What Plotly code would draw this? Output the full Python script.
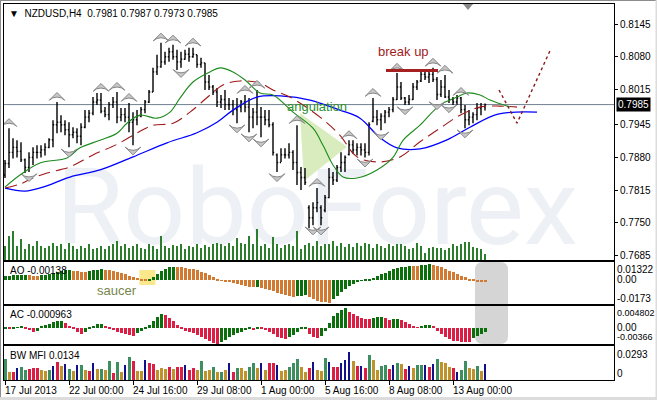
import base64
import plotly.graph_objects as go

FONT = "Liberation Sans"

# ---------------- data ----------------
bars = list(range(121))
high = [.7875,.7938,.7918,.7914,.7910,.7878,.7890,.7900,.7904,.7904,.7908,.7918,.7954,.7990,.7964,.7954,.7950,.7940,.7938,.7948,
        .7974,.7974,.8000,.8008,.8008,.7980,.7990,.8000,.8010,.7978,.7978,.7988,.7970,.7974,.7980,.7994,.8014,.8058,.8084,.8108,
        .8090,.8098,.8104,.8094,.8090,.8094,.8098,.8098,.8084,.8078,.8068,.8044,.8024,.8018,.8004,.8014,.7998,.7994,.7998,.7994,
        .8004,.7998,.7978,.8014,.7980,.7974,.7974,.7950,.7888,.7898,.7898,.7908,.7894,.7944,.7861,.7859,.7785,.7791,.7819,.7785,
        .7805,.7859,.7851,.7865,.7890,.7884,.7914,.7914,.7908,.7908,.7908,.7950,.7998,.7974,.7968,.7974,.7980,.8000,.8048,.8030,
        .8000,.8004,.8028,.8034,.8050,.8054,.8054,.8058,.8040,.8034,.8044,.8014,.8000,.8004,.8000,.7984,.7974,.7970,.7988,.7988,
        .7987]
low = [.7839,.7859,.7878,.7880,.7871,.7849,.7851,.7865,.7878,.7880,.7884,.7898,.7900,.7928,.7930,.7924,.7900,.7918,.7908,.7904,
       .7938,.7950,.7964,.7984,.7968,.7960,.7954,.7978,.7948,.7952,.7950,.7930,.7904,.7944,.7960,.7968,.7988,.8010,.8044,.8058,
       .8064,.8070,.8074,.8054,.8058,.8074,.8070,.8078,.8058,.8058,.8014,.8014,.8004,.7980,.7978,.7974,.7974,.7964,.7948,.7970,
       .7970,.7930,.7938,.7944,.7920,.7944,.7940,.7884,.7851,.7871,.7878,.7878,.7855,.7825,.7815,.7825,.7739,.7745,.7771,.7745,
       .7771,.7799,.7825,.7831,.7851,.7851,.7884,.7888,.7884,.7884,.7880,.7884,.7950,.7944,.7934,.7948,.7960,.7970,.7994,.7994,
       .7984,.7984,.7994,.8014,.8030,.8034,.8028,.8030,.7994,.8000,.7998,.7988,.7984,.7984,.7968,.7938,.7944,.7948,.7954,.7964,
       .7973]
close = [.7868,.7890,.7900,.7892,.7875,.7860,.7880,.7890,.7890,.7895,.7900,.7915,.7945,.7950,.7945,.7935,.7925,.7930,.7922,.7940,
         .7960,.7968,.7990,.7994,.7972,.7965,.7985,.7990,.7960,.7965,.7960,.7950,.7955,.7962,.7975,.7990,.8010,.8050,.8060,.8070,
         .8080,.8090,.8080,.8070,.8075,.8085,.8080,.8085,.8065,.8068,.8030,.8020,.8010,.7990,.7995,.7985,.7985,.7975,.7980,.7990,
         .7980,.7960,.7970,.7960,.7960,.7955,.7945,.7890,.7870,.7885,.7885,.7890,.7870,.7850,.7840,.7830,.7760,.7780,.7790,.7760,
         .7800,.7840,.7835,.7860,.7870,.7880,.7905,.7895,.7900,.7895,.7890,.7945,.7960,.7955,.7962,.7970,.7975,.7995,.8020,.7998,
         .7990,.7995,.8020,.8030,.8045,.8040,.8045,.8035,.8005,.8020,.8000,.7995,.7990,.7998,.7975,.7955,.7960,.7965,.7978,.7981,
         .7985]
open_ = [.7845,.7868,.7890,.7900,.7892,.7875,.7860,.7880,.7890,.7890,.7895,.7900,.7915,.7945,.7950,.7945,.7935,.7925,.7930,.7922,
         .7940,.7960,.7968,.7990,.7994,.7972,.7965,.7985,.7990,.7960,.7965,.7960,.7950,.7955,.7962,.7975,.7990,.8010,.8050,.8060,
         .8070,.8080,.8090,.8080,.8070,.8075,.8085,.8080,.8084,.8065,.8068,.8030,.8020,.8010,.7990,.7995,.7985,.7985,.7975,.7980,
         .7990,.7980,.7960,.7970,.7960,.7960,.7955,.7945,.7885,.7870,.7885,.7885,.7890,.7870,.7850,.7840,.7780,.7760,.7780,.7780,
         .7775,.7800,.7840,.7835,.7860,.7870,.7886,.7905,.7895,.7900,.7895,.7890,.7952,.7960,.7955,.7962,.7970,.7975,.7995,.8020,
         .7998,.7990,.7995,.8020,.8032,.8045,.8040,.8045,.8035,.8005,.8020,.8000,.7995,.7990,.7998,.7975,.7955,.7960,.7965,.7978,
         .7981]
volume = [14,24,29,14,21,11,16,14,19,14,12,14,17,14,16,11,17,14,11,14,12,16,11,12,14,11,14,16,19,14,
          16,12,14,16,12,11,16,14,11,24,14,12,15,14,16,11,14,13,16,12,15,13,16,17,16,14,17,14,22,17,
          16,24,16,31,14,16,12,23,16,12,15,16,14,29,11,15,17,14,19,14,16,16,19,14,17,13,16,13,17,14,
          17,16,12,16,14,12,16,14,16,16,14,11,12,17,14,7,12,13,12,12,10,12,16,14,16,18,18,13,12,11,6]

# Alligator lines (bar index, price)
jaw_x = [0,5,9.5,16.25,23.75,32,40.5,48,53,57,63,69.5,76.25,83.75,88.75,93.75,98,103.75,110.5,116.25,123.25,133]
jaw_y = [.7819,.7813,.7821,.7841,.7855,.7881,.7909,.7929,.7950,.7974,.8000,.8002,.7994,.7974,.7958,.7919,.7899,.7897,.7915,.7940,.7966,.7970]
teeth_x = [0,3.75,7,10.5,16.25,22,28.25,33.75,37,42,46.25,51.25,54.5,58.75,63.75,67,71.25,78.75,83.75,88,93.75,98.75,103.75,108.75,113.75,118.75,123.75,128]
teeth_y = [.7819,.7827,.7839,.7849,.7861,.7885,.7907,.7932,.7944,.7948,.7970,.8004,.8024,.8032,.8028,.8014,.8000,.7960,.7924,.7881,.7871,.7881,.7911,.7938,.7964,.7980,.7982,.7980]
lips_x = [0,3.75,8.75,15.5,18.75,23.75,28,30.5,33.75,38,41.25,43.75,47,51.25,53.75,57,60,63.75,67,72,77,79.5,82,84.5,88,93,97,99.5,103.75,108.75,113,115.5,118.75,121.25,126.25]
lips_y = [.7821,.7845,.7869,.7879,.7899,.7914,.7928,.7948,.7964,.7958,.7970,.7998,.8030,.8050,.8058,.8050,.8034,.8008,.8004,.7970,.7938,.7904,.7865,.7841,.7839,.7855,.7880,.7914,.7944,.7984,.8000,.8008,.8004,.7994,.7980]

fractal_up = [1,13,24,28,31,39,42,47,60,63,73,78,86,92,98,107,110,114]
fractal_down = [6,16,32,44,58,61,64,68,77,79,90,94,100,108,111,115]

ao = [.0030,.0034,.0036,.0037,.0038,.0038,.0036,.0033,.0030,.0035,.0040,.0044,.0052,.0060,.0066,.0071,.0075,.0070,.0065,.0060,
      .0058,.0065,.0072,.0077,.0080,.0076,.0071,.0065,.0058,.0050,.0042,.0034,.0025,.0016,.0010,.0008,.0012,.0022,.0045,.0070,
      .0085,.0093,.0098,.0097,.0094,.0090,.0085,.0080,.0072,.0062,.0050,.0038,.0025,.0012,-.0004,-.0010,-.0016,-.0022,-.0028,-.0034,
      -.0040,-.0046,-.0052,-.0050,-.0058,-.0066,-.0074,-.0082,-.0090,-.0098,-.0106,-.0113,-.0120,-.0117,-.0113,-.0110,-.0125,-.0138,-.0148,-.0156,
      -.0162,-.0165,-.0140,-.0112,-.0087,-.0062,-.0042,-.0026,-.0013,-.0004,.0002,.0008,.0016,.0030,.0043,.0055,.0070,.0079,.0087,.0093,
      .0099,.0104,.0102,.0100,.0108,.0114,.0118,.0113,.0105,.0095,.0083,.0070,.0057,.0045,.0033,.0020,.0010,.0003,-.0007,-.0012,
      -.00138]
ac = [-.0002,-.0003,-.0001,.0001,.0002,-.0002,-.0006,-.0009,-.0007,.0002,.0006,.0009,.0012,.0014,.0015,.0011,.0004,-.0003,-.0010,-.0015,
      -.0010,-.0004,.0002,.0007,.0008,.0003,-.0002,-.0006,-.0010,-.0013,-.0014,-.0016,-.0019,-.0012,-.0008,-.0003,.0006,.0015,.0024,.0030,
      .0028,.0022,.0015,.0006,-.0003,-.0008,-.0010,-.0013,-.0016,-.0020,-.0025,-.0030,-.0034,-.0036,-.0032,-.0027,-.0022,-.0017,-.0013,-.0010,
      -.0006,-.0004,-.0005,-.0002,-.0004,-.0006,-.0010,-.0015,-.0020,-.0024,-.0026,-.0022,-.0016,-.0010,-.0004,-.0001,-.0015,-.0020,-.0023,-.0019,
      -.0008,.0010,.0025,.0033,.0040,.0044,.0035,.0030,.0025,.0021,.0019,.0018,.0021,.0023,.0024,.0021,.0017,.0019,.0020,.0016,
      .0012,.0008,.0002,.0001,.0003,.0005,.0006,.0004,-.0008,-.0015,-.0021,-.0026,-.0030,-.0031,-.0032,-.0033,-.0033,-.0023,-.0019,-.0014,
      -.000963]
mfi = [.0181,.0069,.0069,.0103,.0112,.0086,.0095,.0103,.0103,.0086,.0078,.0086,.0121,.0155,.0121,.0138,.0095,.0078,.0129,.0129,
       .0086,.0078,.0147,.0095,.0095,.0086,.0164,.0060,.0155,.0069,.0129,.0198,.0164,.0078,.0078,.0172,.0147,.0138,.0086,.0103,
       .0095,.0112,.0095,.0112,.0112,.0129,.0086,.0103,.0086,.0164,.0078,.0086,.0112,.0069,.0069,.0086,.0147,.0069,.0103,.0103,
       .0078,.0112,.0147,.0103,.0147,.0086,.0147,.0147,.0129,.0078,.0086,.0112,.0147,.0181,.0112,.0069,.0103,.0155,.0086,.0078,
       .0190,.0155,.0112,.0112,.0147,.0172,.0241,.0164,.0121,.0121,.0103,.0215,.0172,.0086,.0121,.0129,.0095,.0129,.0147,.0138,
       .0095,.0121,.0103,.0129,.0129,.0129,.0112,.0138,.0181,.0155,.0147,.0112,.0103,.0069,.0086,.0164,.0103,.0095,.0121,.0078,
       .0134]
mfi_state = ["green","fade","squat","fake","green","green","squat","squat","squat","fade","fade","green","fake","squat","fade","fake","green","fade","fake","green",
             "fade","squat","fake","fade","green","fade","green","squat","green","fade","fake","green","squat","fade","fade","fake","squat","squat","fade","fade",
             "fade","squat","fade","squat","squat","fake","squat","squat","fade","green","fade","fade","green","fade","green","fade","fake","squat","green","fade",
             "fade","green","green","fade","fake","fade","squat","squat","fake","fade","fade","green","green","green","fade","fade","squat","fake","fade","fade",
             "green","fake","squat","squat","fake","fake","fake","fade","squat","fake","squat","green","fade","fade","green","green","squat","fake","green","fade",
             "squat","fake","fade","green","green","fake","squat","fake","green","fade","fade","fade","squat","fake","green","green","fade","fade","green","fade",
             "fake"]

time_ticks = [0, 16, 32, 48, 64, 80, 96, 112]
time_labels = ["17 Jul 2013", "22 Jul 00:00", "24 Jul 16:00", "29 Jul 08:00",
               "1 Aug 00:00", "5 Aug 16:00", "8 Aug 08:00", "13 Aug 00:00"]
price_ticks = [0.8145, 0.8080, 0.8015, 0.7945, 0.7880, 0.7815, 0.7750, 0.7685]
last_price = 0.7985

# annotation drawings (bar index, price)
breakup_x = [95.25, 108.25]
breakup_y = 0.8053
proj_x = [123.5, 128, 136.25]
proj_y = [0.8014, 0.7948, 0.8092]
angul_x = [73.75, 74.75, 85.5]
angul_y = [0.7968, 0.7833, 0.7901]

# ---------------- helpers ----------------
def change_colors(vals, up, down):
    out, prev = [], up
    for k, v in enumerate(vals):
        if k > 0:
            if v > vals[k - 1]:
                prev = up
            elif v < vals[k - 1]:
                prev = down
        out.append(prev)
    return out

MFI_COL = {"green": "#3d8f5f", "squat": "#dc1e44", "fade": "#c0922c", "fake": "#10108a"}

fig = go.Figure()

# price bars
fig.add_trace(go.Ohlc(x=bars, open=open_, high=high, low=low, close=close,
                      increasing=dict(line=dict(color="black", width=1.4)),
                      decreasing=dict(line=dict(color="black", width=1.4)),
                      tickwidth=0.3, xaxis="x", yaxis="y", hoverinfo="skip"))
# alligator
fig.add_trace(go.Scatter(x=jaw_x, y=jaw_y, mode="lines", line=dict(color="#0000ff", width=1.3, shape="spline"),
                         xaxis="x", yaxis="y"))
fig.add_trace(go.Scatter(x=teeth_x, y=teeth_y, mode="lines",
                         line=dict(color="#a01818", width=1.1, shape="spline", dash="12px,6px"),
                         xaxis="x", yaxis="y"))
fig.add_trace(go.Scatter(x=lips_x, y=lips_y, mode="lines", line=dict(color="#1b8a1b", width=1.1, shape="spline"),
                         xaxis="x", yaxis="y"))
# fractals
fig.add_trace(go.Scatter(x=fractal_up, y=[high[i] + 0.0019 for i in fractal_up], mode="markers",
                         marker=dict(symbol="arrow-wide", angle=0, size=11, color="#c8c8c8",
                                     line=dict(color="#858585", width=1)),
                         xaxis="x", yaxis="y"))
fig.add_trace(go.Scatter(x=fractal_down, y=[low[i] - 0.0019 for i in fractal_down], mode="markers",
                         marker=dict(symbol="arrow-wide", angle=180, size=11, color="#c8c8c8",
                                     line=dict(color="#858585", width=1)),
                         xaxis="x", yaxis="y"))
# projection dotted line & break-up line
fig.add_trace(go.Scatter(x=proj_x, y=proj_y, mode="lines", line=dict(color="#8b1a1a", width=1.4, dash="dot"),
                         xaxis="x", yaxis="y"))
fig.add_trace(go.Scatter(x=breakup_x, y=[breakup_y, breakup_y], mode="lines", line=dict(color="#a52020", width=3),
                         xaxis="x", yaxis="y"))
# volumes
fig.add_trace(go.Bar(x=bars, y=volume, width=0.3, marker=dict(color="#2c7d2c", line=dict(width=0)),
                     xaxis="x", yaxis="y5"))
# AO
fig.add_trace(go.Bar(x=bars, y=ao, width=0.75,
                     marker=dict(color=change_colors(ao, "#0b700b", "#d27a32"), line=dict(width=0)),
                     xaxis="x2", yaxis="y2"))
# AC
fig.add_trace(go.Bar(x=bars, y=ac, width=0.75,
                     marker=dict(color=change_colors(ac, "#0b700b", "#dc1e44"), line=dict(width=0)),
                     xaxis="x3", yaxis="y3"))
# BW MFI
fig.add_trace(go.Bar(x=bars, y=mfi, width=[0.3 if s == "fake" else 0.75 for s in mfi_state],
                     marker=dict(color=[MFI_COL[s] for s in mfi_state], line=dict(width=0)),
                     xaxis="x4", yaxis="y4"))

# ---------------- layout ----------------
W, H = 657, 400
ML, MR, MT, MB = 4, 43, 4, 20
PW, PH = W - ML - MR, H - MT - MB

def py(pix):  # pixel row -> paper y
    return (H - MB - pix) / PH

def px(pix):  # pixel col -> paper x
    return (pix - ML) / PW

XR = [-0.25, 152.25]
axis_common = dict(showline=True, mirror=True, linecolor="black", linewidth=1, showgrid=False, zeroline=False)
fig.update_layout(
    width=W, height=H, margin=dict(l=ML, r=MR, t=MT, b=MB),
    paper_bgcolor="white", plot_bgcolor="rgba(0,0,0,0)", showlegend=False,
    font=dict(family=FONT, size=10, color="black"),
    bargap=0,
    xaxis=dict(domain=[0, 1], anchor="y", range=XR, showticklabels=False, ticks="",
               rangeslider=dict(visible=False), **axis_common),
    xaxis2=dict(domain=[0, 1], anchor="y2", matches="x", showticklabels=False, ticks="", **axis_common),
    xaxis3=dict(domain=[0, 1], anchor="y3", matches="x", showticklabels=False, ticks="", **axis_common),
    xaxis4=dict(domain=[0, 1], anchor="y4", matches="x", showticklabels=False, ticks="outside", ticklen=4,
                tickcolor="black", tickvals=time_ticks, **axis_common),
    yaxis=dict(domain=[py(260), py(4)], range=[0.7676, 0.8185], side="right", tickvals=price_ticks,
               ticktext=[f"{v:.4f}" for v in price_ticks], ticks="outside", ticklen=3, tickcolor="black",
               tickfont=dict(size=10), **axis_common),
    yaxis2=dict(domain=[py(304), py(262)], range=[-0.0173, 0.01322], side="right", showticklabels=False,
                ticks="", **axis_common),
    yaxis3=dict(domain=[py(344), py(306)], range=[-0.00366, 0.004802], side="right", showticklabels=False,
                ticks="", **axis_common),
    yaxis4=dict(domain=[py(380), py(346)], range=[0, 0.0293], side="right", showticklabels=False,
                ticks="", **axis_common),
    yaxis5=dict(overlaying="y", range=[0, max(volume) * 8.26], visible=False, fixedrange=True),
)

# watermark as background image
svg = ('<svg xmlns="http://www.w3.org/2000/svg" width="610" height="256" viewBox="0 0 610 256">'
       '<text x="52" y="240" font-family="Roboto, Liberation Sans, sans-serif" font-size="106" '
       'fill="#edf0f4" textLength="522" lengthAdjust="spacingAndGlyphs">RoboForex</text></svg>')
fig.add_layout_image(dict(source="data:image/svg+xml;base64," + base64.b64encode(svg.encode()).decode(),
                          xref="paper", yref="paper", x=0, y=py(4), sizex=1, sizey=py(4) - py(260),
                          xanchor="left", yanchor="top", sizing="stretch", layer="below"))

shapes = []
# angulation triangle
shapes.append(dict(type="path", xref="x", yref="y", layer="below", line=dict(width=0), fillcolor="#d9ecbd",
                   path=f"M {angul_x[0]},{angul_y[0]} L {angul_x[1]},{angul_y[1]} L {angul_x[2]},{angul_y[2]} Z"))
# current price line
shapes.append(dict(type="line", xref="paper", yref="y", x0=0, x1=1, y0=last_price, y1=last_price,
                   line=dict(color="#71818f", width=1), layer="below"))
# saucer highlight
shapes.append(dict(type="rect", xref="x2", yref="y2", x0=33.6, x1=37.6, y0=-0.0035, y1=0.0074,
                   fillcolor="#fbe88a", line=dict(width=0), layer="below"))
# grey rounded box over AO/AC
x0, x1, y0, y1 = px(475), px(508), py(344), py(262)
rx, ry = 8 / PW, 8 / PH
shapes.append(dict(type="path", xref="paper", yref="paper", layer="below", fillcolor="#d5d5d5", line=dict(width=0),
                   path=(f"M {x0+rx},{y1} L {x1-rx},{y1} Q {x1},{y1} {x1},{y1-ry} L {x1},{y0+ry} "
                         f"Q {x1},{y0} {x1-rx},{y0} L {x0+rx},{y0} Q {x0},{y0} {x0},{y0+ry} "
                         f"L {x0},{y1-ry} Q {x0},{y1} {x0+rx},{y1} Z")))
# chart shift marker
shapes.append(dict(type="path", xref="paper", yref="paper", fillcolor="#8a8a8a", line=dict(width=0),
                   path=f"M {px(463)},{py(4)} L {px(473)},{py(4)} L {px(468)},{py(10)} Z"))
# window frame
shapes.append(dict(type="line", xref="paper", yref="paper", x0=px(0.5), x1=px(0.5), y0=py(400), y1=py(0),
                   line=dict(color="#8c8c8c", width=1)))
shapes.append(dict(type="line", xref="paper", yref="paper", x0=px(0), x1=px(657), y0=py(0.5), y1=py(0.5),
                   line=dict(color="#8c8c8c", width=1)))
shapes.append(dict(type="rect", xref="paper", yref="paper", x0=px(655.5), x1=px(657), y0=py(400), y1=py(0),
                   fillcolor="#dcdcdc", line=dict(width=0)))
shapes.append(dict(type="rect", xref="paper", yref="paper", x0=px(0), x1=px(657), y0=py(400), y1=py(397),
                   fillcolor="#dcdcdc", line=dict(width=0)))
fig.update_layout(shapes=shapes)

ann = []
def A(**kw):
    base = dict(showarrow=False, font=dict(family=FONT, size=10, color="black"))
    base.update(kw)
    ann.append(base)

A(text="▼  NZDUSD,H4  0.7981 0.7987 0.7973 0.7985", xref="paper", yref="paper", x=px(7), y=py(6),
  xanchor="left", yanchor="top")
A(text="0.7985", xref="paper", yref="y", x=1, y=last_price, xanchor="left", yanchor="middle", xshift=2,
  bgcolor="black", font=dict(family=FONT, size=10, color="white"), borderpad=1)
A(text="break up", xref="paper", yref="paper", x=px(404), y=py(52), xanchor="center", yanchor="middle",
  font=dict(family=FONT, size=13, color="#a01c1c"))
A(text="angulation", xref="paper", yref="paper", x=px(317), y=py(106), xanchor="center", yanchor="middle",
  font=dict(family=FONT, size=13, color="#2e8f2e"))
A(text="saucer", xref="paper", yref="paper", x=px(117), y=py(290), xanchor="center", yanchor="middle",
  font=dict(family=FONT, size=13, color="#76864a"))
# pane captions
A(text="AO -0.00138", xref="paper", yref="paper", x=px(8), y=py(263), xanchor="left", yanchor="top")
A(text="AC -0.000963", xref="paper", yref="paper", x=px(8), y=py(307), xanchor="left", yanchor="top")
A(text="BW MFI 0.0134", xref="paper", yref="paper", x=px(8), y=py(348), xanchor="left", yanchor="top")
# sub-pane scale labels
for txt, yp in [("0.01322", 269), ("0.00", 279), ("-0.0173", 298),
                ("0.004802", 313), ("0.00", 327), ("-0.00366", 337),
                ("0.0293", 354), ("0", 373)]:
    A(text=txt, xref="paper", yref="paper", x=1, y=py(yp), xanchor="left", yanchor="middle", xshift=1,
      font=dict(family=FONT, size=10 if len(txt) < 8 else 9, color="black"))
# time labels
for t, lab in zip(time_ticks, time_labels):
    A(text=lab, xref="x4", yref="paper", x=t, y=py(383), xanchor="left", yanchor="top", xshift=-2)
fig.update_layout(annotations=ann)

fig.write_html("out.html", config={"displayModeBar": False},
               post_script="document.body.style.margin='0';document.body.style.overflow='hidden';")
